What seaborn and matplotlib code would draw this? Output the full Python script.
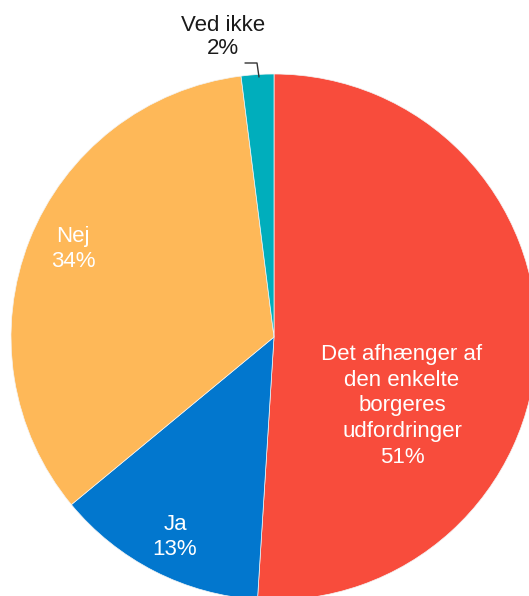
import matplotlib
matplotlib.use("Agg")
import matplotlib.pyplot as plt
import seaborn as sns
import numpy as np

categories = ["Det afhænger af\nden enkelte\nborgeres\nudfordringer", "Ja", "Nej", "Ved ikke"]
values = [51, 13, 34, 2]
colors = ["#F84C3C", "#0277CE", "#FEB858", "#00AEBC"]

sns.set_theme(style="white")
plt.rcParams['font.family'] = ['Liberation Sans', 'DejaVu Sans']

W, H = 529, 596
fig = plt.figure(figsize=(W / 100, H / 100), dpi=100)
ax = fig.add_axes([0, 0, 1, 1])

cx, cy, r = 274, H - 337, 263
wedges, _ = ax.pie(values, colors=colors, startangle=90, counterclock=False,
                   center=(cx, cy), radius=r, frame=True,
                   wedgeprops=dict(linewidth=0.5, edgecolor="#f4f4f4"))
ax.set_xlim(0, W)
ax.set_ylim(0, H)
ax.axis("off")

fs = 16
labels = [f"{c}\n{v}%" for c, v in zip(categories, values)]
pos = {0: (402, 406), 1: (175, 537), 2: (73, 249)}
for i, (x, y) in pos.items():
    ax.text(x, H - y, labels[i], color="white", fontsize=fs, ha="center", va="center",
            linespacing=1.3)
ax.text(223, H - 37, labels[3], color="#1a1a1a", fontsize=fs, ha="center", va="center",
        linespacing=1.15)
ax.plot([245, 257, 259], [H - 63, H - 63, H - 77], color="#333333", lw=1.0)

fig.savefig("out.png", dpi=100)
